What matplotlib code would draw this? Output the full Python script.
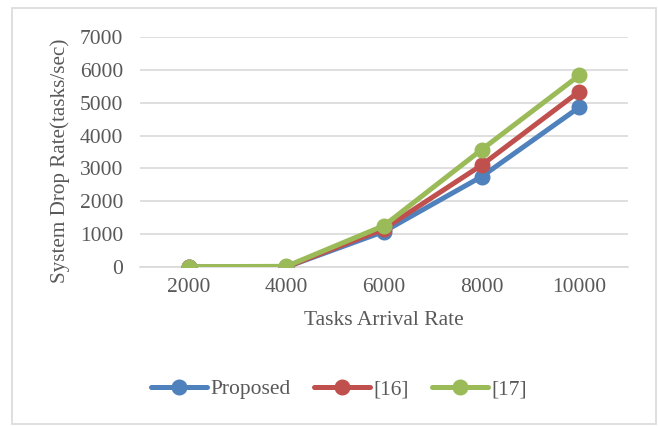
import matplotlib.pyplot as plt
from matplotlib.patches import Rectangle

# drop rate per arrival rate for each scheme
arrival_rates = ["2000", "4000", "6000", "8000", "10000"]
proposed = [0, 0, 1080, 2750, 4860]
ref16 = [0, 0, 1160, 3100, 5340]
ref17 = [10, 20, 1260, 3570, 5830]

plt.rcParams['font.family'] = ['Liberation Serif', 'DejaVu Serif']
text_col = '#595959'
grid_col = '#D9D9D9'

fig = plt.figure(figsize=(6.58, 4.26), dpi=100)
fig.patches.append(Rectangle((12 / 658, 2 / 426), 644 / 658, 416 / 426,
                             transform=fig.transFigure, fill=False,
                             edgecolor='#D9D9D9', linewidth=1.2))
ax = fig.add_axes([140 / 658, 1 - 267 / 426, 488 / 658, 230 / 426])

x = range(len(arrival_rates))
series = [(proposed, 'Proposed', '#4F81BD'),
          (ref16, '[16]', '#C0504D'),
          (ref17, '[17]', '#9BBB59')]
for vals, name, col in series:
    ax.plot(x, vals, color=col, linewidth=3.6, marker='o', markersize=10.5,
            label=name, solid_capstyle='round', zorder=3)

ax.set_xlim(-0.5, len(arrival_rates) - 0.5)
ax.set_ylim(0, 7000)
ax.set_yticks(range(0, 7001, 1000))
ax.set_xticks(list(x))
ax.set_xticklabels(arrival_rates)
ax.grid(axis='y', color=grid_col, linewidth=1.2, zorder=0)
for s in ['top', 'right', 'left']:
    ax.spines[s].set_visible(False)
ax.spines['bottom'].set_color(grid_col)
ax.spines['bottom'].set_linewidth(1.2)
ax.tick_params(length=0, labelsize=15.5, colors=text_col, pad=8)
ax.tick_params(axis='y', pad=12)

ax.set_xlabel('Tasks Arrival Rate', fontsize=15.5, color=text_col, labelpad=10)
ax.set_ylabel('System Drop Rate(tasks/sec)', fontsize=15.2, color=text_col)
ax.yaxis.set_label_coords(-70 / 488, 0.46)

fig.legend(loc='center', bbox_to_anchor=(339 / 658, 1 - 389 / 426), ncol=3,
           frameon=False, fontsize=15.5, labelcolor=text_col, handlelength=2.6,
           handletextpad=0.15, columnspacing=1.1)

fig.savefig('out.png', dpi=100, facecolor='white')
